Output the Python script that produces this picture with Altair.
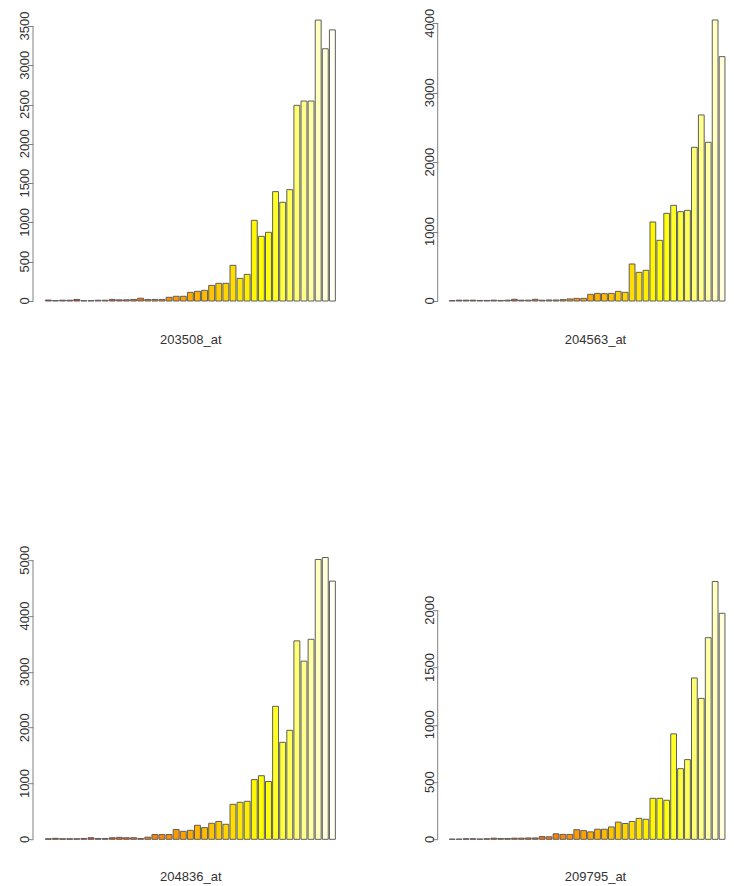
import colorsys
import altair as alt
import pandas as pd

# ---------------- data ----------------
probe_names = ["203508_at", "204563_at", "204836_at", "209795_at"]

values_203508 = [12, 5, 10, 10, 20, 5, 5, 10, 10, 20, 15, 15, 20, 35, 20, 20, 20,
                 47, 60, 60, 110, 123, 136, 199, 225, 225, 454, 288, 339, 1027,
                 823, 874, 1392, 1256, 1417, 2490, 2545, 2545, 3575, 3210, 3450]
values_204563 = [5, 12, 12, 12, 8, 8, 12, 8, 12, 25, 12, 12, 25, 12, 15, 15, 20,
                 30, 38, 38, 96, 110, 106, 110, 139, 125, 533, 413, 442, 1138,
                 874, 1263, 1378, 1287, 1306, 2214, 2680, 2286, 4048, 3520]
values_204836 = [10, 18, 10, 10, 10, 15, 28, 15, 15, 28, 35, 28, 28, 15, 38, 85,
                 85, 85, 175, 143, 161, 251, 209, 287, 320, 269, 627, 663, 681,
                 1070, 1140, 1036, 2383, 1738, 1953, 3556, 3193, 3584, 5015, 5050, 4627]
values_209795 = [2, 2, 5, 5, 3, 5, 10, 7, 7, 10, 10, 12, 12, 24, 22, 48, 43, 43,
                 84, 76, 65, 88, 88, 108, 150, 138, 156, 183, 175, 358, 358, 341,
                 921, 617, 696, 1409, 1231, 1761, 2252, 1974]

ticks_203508 = [0, 500, 1000, 1500, 2000, 2500, 3000, 3500]
ticks_204563 = [0, 1000, 2000, 3000, 4000]
ticks_204836 = [0, 1000, 2000, 3000, 4000, 5000]
ticks_209795 = [0, 500, 1000, 1500, 2000]

n_samples = 41

# ---------------- styles ----------------
FONT = "Liberation Sans"
TXT = "#333333"
AX = "#808080"
BORDER = "#5e5e5e"


def heat_colors(n):
    """R's heat.colors(n)"""
    j = n // 4
    i = n - j
    out = []
    for k in range(i):
        h = (k / (i - 1)) * (1 / 6) if i > 1 else 0.0
        out.append(colorsys.hsv_to_rgb(h, 1.0, 1.0))
    s0, s1 = 1 - 1 / (2 * j), 1 / (2 * j)
    for k in range(j):
        s = s0 + (s1 - s0) * k / (j - 1) if j > 1 else s0
        out.append(colorsys.hsv_to_rgb(1 / 6, s, 1.0))
    return ["#%02X%02X%02X" % tuple(int(round(c * 255)) for c in rgb) for rgb in out]


HEAT = heat_colors(n_samples)
SAMPLES = list(range(n_samples))


def panel(values, name, ticks, ydom, xdom, width, bar_w, title_y, anchor=False, height=304):
    df = pd.DataFrame({"sample": list(range(len(values))), "expr": values})
    bars = alt.Chart(df).mark_bar(size=bar_w, stroke=BORDER, strokeWidth=1).encode(
        x=alt.X("sample:Q",
                scale=alt.Scale(domain=xdom, nice=False, zero=False, padding=0),
                axis=alt.Axis(title=name, domain=False, ticks=False, labels=False,
                              grid=False, titleX=157.3, titleY=title_y,
                              titleBaseline="top", titleAlign="center",
                              titleFont=FONT, titleFontSize=13,
                              titleFontWeight="normal", titleColor=TXT)),
        y=alt.Y("expr:Q",
                scale=alt.Scale(domain=ydom, nice=False, zero=False, padding=0),
                axis=alt.Axis(title=None, values=ticks, domain=False, grid=False,
                              labels=False, tickColor=AX, tickSize=5.5, tickWidth=1)),
        y2=alt.datum(0),
        color=alt.Color("sample:O",
                        scale=alt.Scale(domain=SAMPLES, range=HEAT),
                        legend=None),
    )
    axis_df = pd.DataFrame({"lo": [ticks[0]], "hi": [ticks[-1]]})
    line = alt.Chart(axis_df).mark_rule(color=AX, strokeWidth=1).encode(
        x=alt.value(0),
        y=alt.Y("lo:Q", title=None),
        y2="hi:Q",
    )
    tick_df = pd.DataFrame({"tick": ticks, "label": [str(t) for t in ticks]})
    labels = alt.Chart(tick_df).mark_text(
        angle=270, align="center", baseline="alphabetic",
        font=FONT, fontSize=13, color=TXT,
    ).encode(
        x=alt.value(-3.9),
        y=alt.Y("tick:Q", title=None),
        text="label:N",
    )
    layers = [bars, line, labels]
    if anchor:
        # invisible marker fixing the left edge of the drawing
        layers.append(
            alt.Chart(axis_df).mark_rule(color="white", strokeOpacity=0, strokeWidth=1).encode(
                x=alt.value(-24.8), y=alt.value(150), y2=alt.value(151)
            )
        )
    return alt.layer(*layers).properties(width=width, height=height)


XL = [-2.163, 42.34]   # left column x-range (sample index units)
XR = [-2.093, 39.454]  # right column x-range

p1 = panel(values_203508, probe_names[0], ticks_203508, [-152.7, 3716], XL, 316, 5.92, 20.7, anchor=True)
p2 = panel(values_204563, probe_names[1], ticks_204563, [-172.8, 4206], XR, 287.5, 5.77, 20.7)
p3 = panel(values_204836, probe_names[2], ticks_204836, [-195.3, 5252.6], XL, 316, 5.92, 20.2, anchor=True)
p4 = panel(values_209795, probe_names[3], ticks_209795, [-95.2, 2560], XR, 287.5, 5.77, 20.2)

chart = alt.concat(
    p1, p2, p3, p4,
    columns=2,
    spacing={"row": 233.2, "column": 88.7},
    bounds="flush",
).properties(
    padding={"left": 0, "top": 0, "right": 0, "bottom": 0},
).configure(background="white").configure_view(stroke=None)

chart.save("out.html", embed_options={"renderer": "svg", "actions": False})
